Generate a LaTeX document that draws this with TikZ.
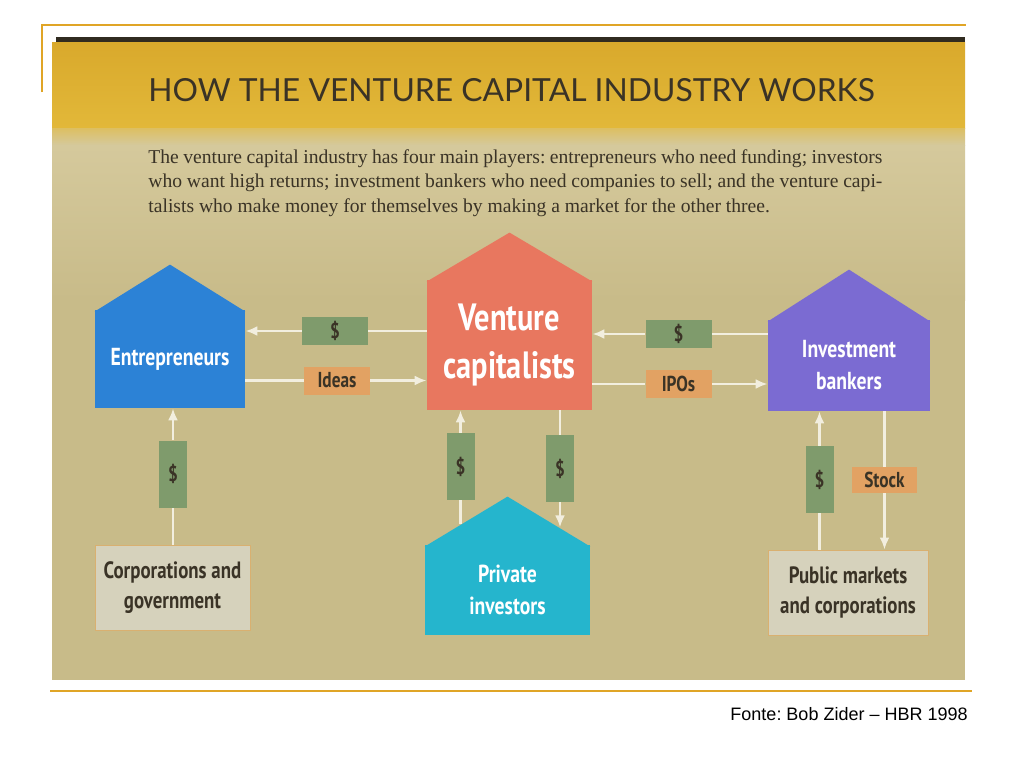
\documentclass[tikz,border=0pt]{standalone}
\usepackage{fontspec}
\setmainfont{Liberation Serif}
\newfontfamily\titlefont{Lato}
\newfontfamily\labelfont[FakeStretch=0.8]{PT Sans}
\newfontfamily\footfont{Liberation Sans}
\usetikzlibrary{positioning,calc,arrows.meta}
\frenchspacing

\definecolor{bandyellow}{HTML}{E2B839}
\definecolor{bandtop}{HTML}{D9A92C}
\definecolor{khaki}{HTML}{C8BB89}
\definecolor{khakilight}{HTML}{D5C99C}
\definecolor{entblue}{HTML}{2C82D6}
\definecolor{vcred}{HTML}{E8775F}
\definecolor{ibpurple}{HTML}{7B6BD2}
\definecolor{picyan}{HTML}{25B5CD}
\definecolor{boxgrey}{HTML}{D6D2BC}
\definecolor{boxedge}{HTML}{D9B070}
\definecolor{money}{HTML}{7F9B6C}
\definecolor{goods}{HTML}{E2A263}
\definecolor{inkbrown}{HTML}{3A3326}
\definecolor{flowwhite}{HTML}{F2EEDF}
\definecolor{rulegold}{HTML}{E0A526}

\begin{document}
\begin{tikzpicture}[x=0.5pt,y=-0.5pt,
    house/.style={fill=#1,text=white,align=center,inner sep=0pt,
                  font=\labelfont\bfseries\fontsize{12.3}{16}\selectfont},
    greybox/.style={fill=boxgrey,draw=boxedge,line width=0.5pt,text=inkbrown,align=center,
                    inner sep=0pt,font=\labelfont\bfseries\fontsize{11.8}{15}\selectfont},
    tag/.style={fill=#1,text=inkbrown,inner sep=0pt,
                font=\labelfont\bfseries\fontsize{10.8}{12}\selectfont},
    htag/.style={tag=#1,minimum width=33pt,minimum height=14pt},
    vtag/.style={tag=#1,minimum width=14pt,minimum height=33.5pt},
    flowline/.style={draw=flowwhite,line width=1.4pt},
    flow/.style={flowline,-{Latex[length=6pt,width=5pt]}}
                   ]
    \useasboundingbox (0,0) rectangle (1024,768);
    \fill[white] (0,0) rectangle (1024,768);

    % panel
    \fill[khaki] (52,42) rectangle (965,680);
    \shade[top color=bandtop,bottom color=bandyellow] (52,42) rectangle (965,128);
    \shade[top color=bandyellow!60!khakilight,bottom color=khakilight] (52,128) rectangle (965,145);
    \shade[top color=khakilight,bottom color=khaki] (52,145) rectangle (965,300);
    \fill[inkbrown!85!black] (56,37) rectangle (965,42);

    % frame rules
    \draw[rulegold,line width=1pt] (42,92) -- (42,25) -- (966,25);
    \draw[rulegold,line width=1pt] (50,691) -- (972,691);

    \node[anchor=west,inner sep=0pt,text=inkbrown,font=\titlefont\fontsize{15.9}{18}\selectfont]
        (title) at (148,90) {HOW THE VENTURE CAPITAL INDUSTRY WORKS};
    \node[anchor=north west,inner sep=0pt,text width=367pt,align=justify,text=inkbrown,
          font=\fontsize{9.8}{12.25}\selectfont] (blurb) at (148,149)
        {The venture capital industry has four main players: entrepreneurs who need funding; investors\linebreak
         who want high returns; investment bankers who need companies to sell; and the venture capi-\linebreak
         talists who make money for themselves by making a market for the other three.};

    % players
    \node[house=entblue,minimum width=75pt,minimum height=49pt](ent) at (170,359) {Entrepreneurs};
    \node[house=vcred,minimum width=82.5pt,minimum height=65pt,
          font=\labelfont\bfseries\fontsize{19}{24}\selectfont](vc) at (509.5,345) {Venture\\capitalists};
    \node[house=ibpurple,minimum width=81pt,minimum height=45.5pt](ib) at (849,365.5) {Investment\\bankers};
    \node[house=picyan,minimum width=82.5pt,minimum height=45pt](pi) at (507.5,590) {Private\\investors};
    \coordinate (entapex) at ([shift={(0,-45)}]ent.north);
    \coordinate (vcapex) at ([shift={(0,-47)}]vc.north);
    \coordinate (ibapex) at ([shift={(0,-50)}]ib.north);
    \coordinate (piapex) at ([shift={(0,-48)}]pi.north);
    \fill[entblue] ([yshift=-1pt]ent.north west) -- (entapex) -- ([yshift=-1pt]ent.north east) -- cycle;
    \fill[vcred] ([yshift=-1pt]vc.north west) -- (vcapex) -- ([yshift=-1pt]vc.north east) -- cycle;
    \fill[ibpurple] ([yshift=-1pt]ib.north west) -- (ibapex) -- ([yshift=-1pt]ib.north east) -- cycle;
    \fill[picyan] ([yshift=-1pt]pi.north west) -- (piapex) -- ([yshift=-1pt]pi.north east) -- cycle;
    \coordinate (r1) at ($(pi.north west)!0.43!(piapex)$);
    \coordinate (r2) at ($(piapex)!0.64!(pi.north east)$);

    \node[greybox,minimum width=77.5pt,minimum height=42.5pt](corp) at (172.5,587.5) {Corporations and\\government};
    \node[greybox,minimum width=80pt,minimum height=42.5pt](pub) at (848,592.5) {Public markets\\and corporations};

    % flows
    \node[htag=money](d1) at (335,331) {\$};
    \node[htag=goods](ideas) at (337,380.5) {Ideas};
    \node[htag=money](d2) at (678.5,334) {\$};
    \node[htag=goods](ipo) at (678.5,384) {IPOs};
    \node[vtag=money](d3) at (173,474) {\$};
    \node[vtag=money](d4) at (460.5,466.5) {\$};
    \node[vtag=money](d5) at (560,468.5) {\$};
    \node[vtag=money](d6) at (819.5,479.5) {\$};
    \node[tag=goods,minimum width=32.5pt,minimum height=13pt](stock) at (884.5,480) {Stock};

    \draw[flowline] (vc.west |- d1) -- (d1.east);
    \draw[flow] (d1.west) -- (ent.east |- d1);
    \draw[flowline] (ent.east |- ideas) -- (ideas.west);
    \draw[flow] (ideas.east) -- (vc.west |- ideas);
    \draw[flowline] (ib.west |- d2) -- (d2.east);
    \draw[flow] (d2.west) -- (vc.east |- d2);
    \draw[flowline] (vc.east |- ipo) -- (ipo.west);
    \draw[flow] (ipo.east) -- (ib.west |- ipo);
    \draw[flowline] (corp.north -| d3) -- (d3.south);
    \draw[flow] (d3.north) -- (ent.south -| d3);
    \draw[flowline] (d4 |- r1) -- (d4.south);
    \draw[flow] (d4.north) -- (vc.south -| d4);
    \draw[flowline] (vc.south -| d5) -- (d5.north);
    \draw[flow] (d5.south) -- (d5 |- r2);
    \draw[flowline] (pub.north -| d6) -- (d6.south);
    \draw[flow] (d6.north) -- (ib.south -| d6);
    \draw[flowline] (ib.south -| stock) -- (stock.north);
    \draw[flow] (stock.south) -- (pub.north -| stock);

    \node[anchor=base east,inner sep=0pt,font=\footfont\fontsize{9}{11}\selectfont]
        (source) at (968,720) {Fonte: Bob Zider – HBR 1998};

\end{tikzpicture}
\end{document}
